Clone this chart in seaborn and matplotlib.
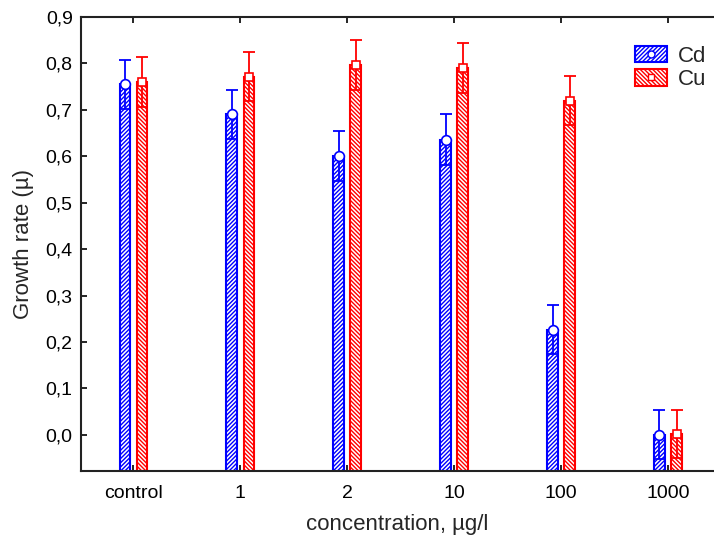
import matplotlib
matplotlib.use('Agg')
import matplotlib.pyplot as plt
import seaborn as sns
import pandas as pd
import numpy as np
from matplotlib.patches import Patch
from matplotlib.lines import Line2D
from matplotlib.ticker import FuncFormatter

# data
concentrations=['control','1','2','10','100','1000']
cd_mean=[0.755,0.690,0.601,0.636,0.226,0.000]
cu_mean=[0.760,0.771,0.797,0.791,0.720,0.001]
cd_err=[0.053,0.053,0.054,0.054,0.053,0.053]
cu_err=[0.053,0.053,0.054,0.054,0.053,0.052]
metals=['Cd','Cu']

colors={'Cd':'#0000ff','Cu':'#ff0000'}
hatches={'Cd':'////////','Cu':'\\\\\\\\\\\\\\\\'}
markers={'Cd':'o','Cu':'s'}
msizes={'Cd':7,'Cu':6}
ymin=-0.078

df=pd.DataFrame({'concentration':concentrations*2,
	'metal':['Cd']*6+['Cu']*6,
	'mu':cd_mean+cu_mean,
	'err':cd_err+cu_err})

sns.set_style('ticks')
plt.rcParams['font.family']=['Liberation Sans','DejaVu Sans']
plt.rcParams['hatch.linewidth']=1.0

fig=plt.figure(figsize=(7.14,5.4),dpi=100)
ax=fig.add_axes([0.1134,0.1278,0.8866,0.8407])

sns.barplot(data=df,x='concentration',y='mu',hue='metal',order=concentrations,hue_order=metals,
	width=0.32,gap=0.38,errorbar=None,legend=False,ax=ax)

# bars start at the bottom of the axis, hatched, white face
for metal,cont in zip(metals,ax.containers):
	for bar in cont:
		top=bar.get_y()+bar.get_height()
		bar.set_y(ymin)
		bar.set_height(top-ymin)
		bar.set_facecolor('white')
		bar.set_edgecolor(colors[metal])
		bar.set_hatch(hatches[metal])
		bar.set_linewidth(1.5)
	xs=[b.get_x()+b.get_width()/2 for b in cont]
	sub=df[df.metal==metal]
	ax.errorbar(xs,sub.mu,yerr=sub.err,fmt='none',ecolor=colors[metal],elinewidth=1.3,
		capsize=4,capthick=1.3,zorder=3)
	ax.plot(xs,sub.mu,linestyle='none',marker=markers[metal],markersize=msizes[metal],
		markerfacecolor='white',markeredgecolor=colors[metal],markeredgewidth=1.2,zorder=4)

ax.set_ylim(ymin,0.9)
ax.set_xlim(-0.49,5.43)
ax.set_yticks(np.arange(0,0.91,0.1))
ax.yaxis.set_major_formatter(FuncFormatter(lambda v,p:('%.1f'%v).replace('.',',')))
ax.tick_params(axis='both',direction='in',length=4,width=1.2,labelsize=14,colors='black')
ax.tick_params(axis='x',top=True,pad=10)
ax.tick_params(axis='y',pad=6)
for s in ['left','bottom','top']:
	ax.spines[s].set_linewidth(1.5)
	ax.spines[s].set_color('#222222')
ax.spines['right'].set_visible(False)

ax.set_xlabel('concentration, µg/l',fontsize=16,labelpad=9)
ax.set_ylabel('Growth rate (µ)',fontsize=16,labelpad=8)

handles=[]
for metal in metals:
	p=Patch(facecolor='white',edgecolor=colors[metal],hatch=hatches[metal],linewidth=1.5)
	m=Line2D([],[],linestyle='none',marker=markers[metal],markersize=5,markerfacecolor='white',
		markeredgecolor=colors[metal])
	handles.append((p,m))
ax.legend(handles,metals,loc='upper right',bbox_to_anchor=(1.02,0.98),frameon=False,fontsize=16,
	handlelength=1.45,handleheight=0.75,handletextpad=0.5,labelspacing=0.1)

plt.savefig('out.png',dpi=100)
plt.close()
